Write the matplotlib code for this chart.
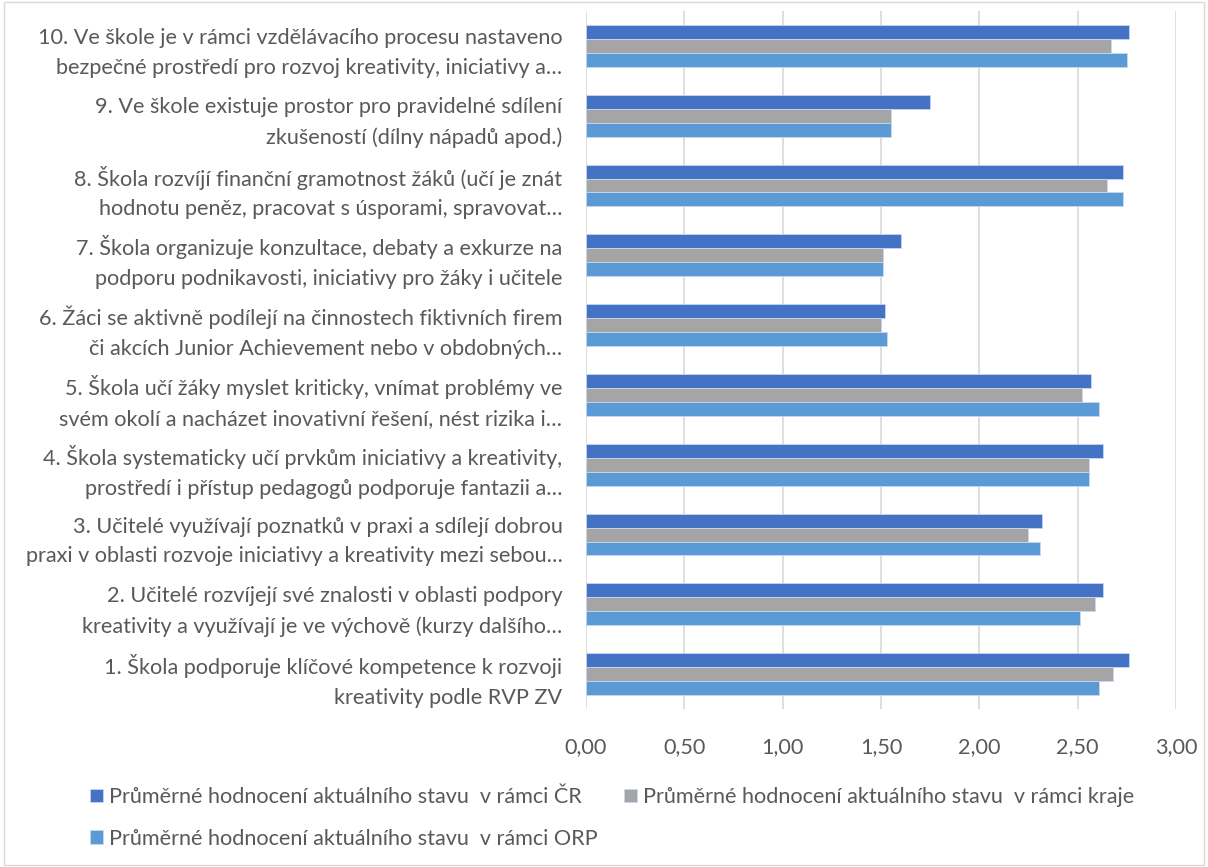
"""Průměrné hodnocení – horizontální skupinový sloupcový graf."""

import matplotlib
matplotlib.use("Agg")
import matplotlib.pyplot as plt
from matplotlib.patches import Rectangle
import numpy as np

# otázky od 1 (dole) po 10 (nahoře)
categories = [
    "1. Škola podporuje klíčové kompetence k rozvoji\nkreativity podle RVP ZV",
    "2. Učitelé rozvíjejí své znalosti v oblasti podpory\nkreativity a využívají je ve výchově (kurzy dalšího…",
    "3. Učitelé využívají poznatků v praxi a sdílejí dobrou\npraxi v oblasti rozvoje iniciativy a kreativity mezi sebou…",
    "4. Škola systematicky učí prvkům iniciativy a kreativity,\nprostředí i přístup pedagogů podporuje fantazii a…",
    "5. Škola učí žáky myslet kriticky, vnímat problémy ve\nsvém okolí a nacházet inovativní řešení, nést rizika i…",
    "6. Žáci se aktivně podílejí na činnostech fiktivních firem\nči akcích Junior Achievement nebo v obdobných…",
    "7. Škola organizuje konzultace, debaty a exkurze na\npodporu podnikavosti, iniciativy pro žáky i učitele",
    "8. Škola rozvíjí finanční gramotnost žáků (učí je znát\nhodnotu peněz, pracovat s úsporami, spravovat…",
    "9. Ve škole existuje prostor pro pravidelné sdílení\nzkušeností (dílny nápadů apod.)",
    "10. Ve škole je v rámci vzdělávacího procesu nastaveno\nbezpečné prostředí pro rozvoj kreativity, iniciativy a…",
]

cr = [2.76, 2.63, 2.32, 2.63, 2.57, 1.52, 1.60, 2.73, 1.75, 2.76]
kraj = [2.68, 2.59, 2.25, 2.56, 2.52, 1.50, 1.51, 2.65, 1.55, 2.67]
orp = [2.61, 2.51, 2.31, 2.56, 2.61, 1.53, 1.51, 2.73, 1.55, 2.75]

series_labels = [
    "Průměrné hodnocení aktuálního stavu  v rámci ČR",
    "Průměrné hodnocení aktuálního stavu  v rámci kraje",
    "Průměrné hodnocení aktuálního stavu  v rámci ORP",
]
colors = ["#4472C4", "#A5A5A5", "#5B9BD5"]

xticks = [0, 0.5, 1.0, 1.5, 2.0, 2.5, 3.0]
xticklabels = ["0,00", "0,50", "1,00", "1,50", "2,00", "2,50", "3,00"]

plt.rcParams["font.family"] = ["Lato", "DejaVu Sans"]
text_color = "#595959"
fs = 15.6

fig = plt.figure(figsize=(12.08, 8.67), dpi=100)
ax = fig.add_axes([0.4851, 0.1822, 0.4884, 0.8051])

y = np.arange(1, len(categories) + 1)
h = 0.2
handles = []
for offset, values, color, label in zip([h, 0, -h], [cr, kraj, orp], colors, series_labels):
    b = ax.barh(y + offset, values, height=h, color=color, edgecolor="#c9d7ee",
                linewidth=0.6, label=label, zorder=3)
    handles.append(b)

ax.set_xlim(0, 3)
ax.set_ylim(0.5, 10.5)
ax.set_xticks(xticks)
ax.set_xticklabels(xticklabels)
ax.set_yticks(y)
ax.set_yticklabels(categories, ha="right")
for t in ax.get_yticklabels():
    t.set_linespacing(1.62)
ax.tick_params(axis="both", length=0, labelsize=fs, labelcolor=text_color)
ax.tick_params(axis="y", pad=17)
ax.tick_params(axis="x", pad=20)
ax.grid(axis="x", color="#d9d9d9", linewidth=1.2, zorder=0)
for side in ["top", "right", "bottom", "left"]:
    ax.spines[side].set_visible(False)

# pořadí po řádcích: ČR, kraj / ORP
fig.legend(
    [handles[0], handles[2], handles[1]],
    [series_labels[0], series_labels[2], series_labels[1]],
    ncol=2, loc="upper left", bbox_to_anchor=(0.067, 0.102),
    frameon=False, fontsize=fs, labelcolor=text_color,
    handlelength=0.6, handleheight=0.6, handletextpad=0.3,
    columnspacing=1.2, labelspacing=1.0, borderaxespad=0,
)

fig.patches.append(Rectangle((0.003, 0.002), 0.994, 0.996, transform=fig.transFigure,
                             fill=False, edgecolor="#d9d9d9", linewidth=1))

fig.savefig("out.png", dpi=100)
